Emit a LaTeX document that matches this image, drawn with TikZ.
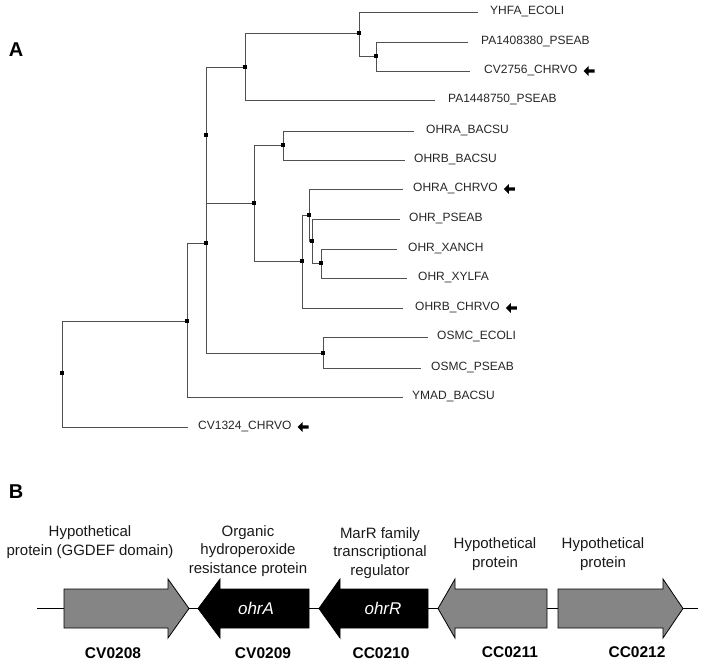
\documentclass[tikz,border=0pt]{standalone}
\usepackage{fontspec}
\setmainfont{Liberation Sans}
\definecolor{genegray}{HTML}{858585}
\definecolor{branch}{HTML}{505050}
\begin{document}
\begin{tikzpicture}[x=1pt,y=-1pt,
  br/.style={draw=branch, line width=0.9pt},
  nd/.style={fill=black, minimum size=4pt, inner sep=0pt, shape=rectangle},
  leaf/.style={anchor=west, inner sep=0pt, font=\fontsize{12}{14}\selectfont, text=black!85},
  panel/.style={font=\fontsize{20}{22}\selectfont\bfseries},
  desc/.style={align=center, inner sep=0pt, font=\fontsize{15}{18.5}\selectfont, text=black!90},
  gid/.style={inner sep=0pt, font=\fontsize{15.5}{17}\selectfont\bfseries},
  gname/.style={inner sep=0pt, text=white, font=\fontsize{17}{19}\selectfont\itshape},
  ggrey/.style={draw=black, line width=0.8pt, fill=genegray},
  gblack/.style={draw=black, line width=0.8pt, fill=black},
  hit/.pic={\fill[black] (0,0) -- (5,-5) -- (5,-1.7) -- (11,-1.7) -- (11,1.7) -- (5,1.7) -- (5,5) -- cycle;}
]
\useasboundingbox (0,0) rectangle (704,663);

% ---------- panel A ----------
\node[panel] (A) at (16,50) {A};

% internal nodes
\coordinate (n2) at (376,56);
\coordinate (n1) at (359,33);
\coordinate (n3) at (245,67);
\coordinate (n5) at (283,145);
\coordinate (n10) at (321,263);
\coordinate (n11) at (312,241);
\coordinate (n9) at (309,215);
\coordinate (n8) at (302,261);
\coordinate (n6) at (254,203);
\coordinate (n4) at (206,135);
\coordinate (nx) at (206,243);
\coordinate (no) at (323,353);
\coordinate (n7) at (187,321);
\coordinate (root) at (62,373);

% leaf line ends
\coordinate (e1) at (478,12);
\coordinate (e2) at (468,42);
\coordinate (e3) at (470,71);
\coordinate (e4) at (435,100);
\coordinate (e5) at (414,131);
\coordinate (e6) at (405,160);
\coordinate (e7) at (403,189);
\coordinate (e8) at (400,219);
\coordinate (e9) at (397,249);
\coordinate (e10) at (407,278);
\coordinate (e11) at (403,308);
\coordinate (e12) at (428,337);
\coordinate (e13) at (421,368);
\coordinate (e14) at (403,397);
\coordinate (e15) at (188,427);

% leaf labels
\node[leaf] (l1) at (490,12) {YHFA\_ECOLI};
\node[leaf] (l2) at (481,42) {PA1408380\_PSEAB};
\node[leaf] (l3) at (484,71) {CV2756\_CHRVO};
\node[leaf] (l4) at (448,100) {PA1448750\_PSEAB};
\node[leaf] (l5) at (426,131) {OHRA\_BACSU};
\node[leaf] (l6) at (414,160) {OHRB\_BACSU};
\node[leaf] (l7) at (413,189) {OHRA\_CHRVO};
\node[leaf] (l8) at (409,219) {OHR\_PSEAB};
\node[leaf] (l9) at (408,249) {OHR\_XANCH};
\node[leaf] (l10) at (418,278) {OHR\_XYLFA};
\node[leaf] (l11) at (415,308) {OHRB\_CHRVO};
\node[leaf] (l12) at (437,337) {OSMC\_ECOLI};
\node[leaf] (l13) at (431,368) {OSMC\_PSEAB};
\node[leaf] (l14) at (412,397) {YMAD\_BACSU};
\node[leaf] (l15) at (198,427) {CV1324\_CHRVO};

% branches
\draw[br] (n1) |- (e1);
\draw[br] (n1) |- (n2);
\draw[br] (n2) |- (e2);
\draw[br] (n2) |- (e3);
\draw[br] (n3) |- (n1);
\draw[br] (n3) |- (e4);
\draw[br] (n5) |- (e5);
\draw[br] (n5) |- (e6);
\draw[br] (n10) |- (e9);
\draw[br] (n10) |- (e10);
\draw[br] (n11) |- (e8);
\draw[br] (n11) |- (n10);
\draw[br] (n9) |- (e7);
\draw[br] (n9) |- (n11);
\draw[br] (n8) |- (n9);
\draw[br] (n8) |- (e11);
\draw[br] (n6) |- (n5);
\draw[br] (n6) |- (n8);
\draw[br] (n4) |- (n3);
\draw[br] (n4) |- (n6);
\draw[br] (nx) |- (n4);
\draw[br] (nx) |- (no);
\draw[br] (no) |- (e12);
\draw[br] (no) |- (e13);
\draw[br] (n7) |- (nx);
\draw[br] (n7) |- (e14);
\draw[br] (root) |- (n7);
\draw[br] (root) |- (e15);

% node markers
\foreach \p in {n1,n2,n3,n4,n5,n6,n8,n9,n10,n11,nx,no,n7,root}
  \node[nd] at (\p) {};

% highlight arrows
\pic at ([xshift=6pt]l3.east) {hit};
\pic at ([xshift=6pt]l7.east) {hit};
\pic at ([xshift=6pt]l11.east) {hit};
\pic at ([xshift=6pt]l15.east) {hit};

% ---------- panel B ----------
\node[panel] (B) at (16,492) {B};

\coordinate (bbL) at (37,608.5);
\coordinate (bbR) at (698,608.5);
\draw[line width=1.3pt] (bbL) -- (bbR);

% gene arrows
\draw[ggrey] (64,589) -- (168,589) -- (168,579) -- (189,608.5) -- (168,638) -- (168,628) -- (64,628) -- cycle;
\draw[gblack] (309,589) -- (220,589) -- (220,579) -- (198,608.5) -- (220,638) -- (220,628) -- (309,628) -- cycle;
\draw[gblack] (428,589) -- (340,589) -- (340,579) -- (319,608.5) -- (340,638) -- (340,628) -- (428,628) -- cycle;
\draw[ggrey] (547,589) -- (455,589) -- (455,579) -- (438,608.5) -- (455,638) -- (455,628) -- (547,628) -- cycle;
\draw[ggrey] (558,589) -- (663,589) -- (663,579) -- (683,608.5) -- (663,638) -- (663,628) -- (558,628) -- cycle;

\node[gname] (ohra) at (256,608.5) {ohrA};
\node[gname] (ohrr) at (383,608.5) {ohrR};

% descriptions
\node[desc] (d1) at (90,542) {Hypothetical\\protein (GGDEF domain)};
\node[desc] (d2) at (248,551) {Organic\\hydroperoxide\\resistance protein};
\node[desc] (d3) at (380,553) {MarR family\\transcriptional\\regulator};
\node[desc] (d4) at (495,554) {Hypothetical\\protein};
\node[desc] (d5) at (603,554) {Hypothetical\\protein};

% gene ids
\node[gid] (g1) at (113,653) {CV0208};
\node[gid] (g2) at (263,653) {CV0209};
\node[gid] (g3) at (381,653) {CC0210};
\node[gid] (g4) at (510,652) {CC0211};
\node[gid] (g5) at (637,652) {CC0212};
\end{tikzpicture}
\end{document}
